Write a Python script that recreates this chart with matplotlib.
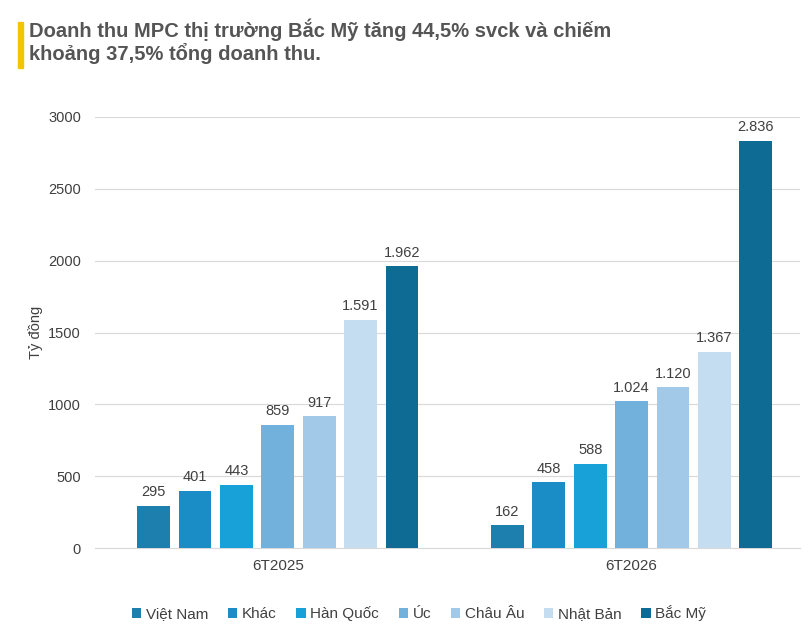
import matplotlib.pyplot as plt
import numpy as np

plt.rcParams["font.family"] = ["Liberation Sans", "DejaVu Sans"]

groups = ["6T2025", "6T2026"]
markets = ["Việt Nam", "Khác", "Hàn Quốc", "Úc", "Châu Âu", "Nhật Bản", "Bắc Mỹ"]
values_2025 = [295, 401, 443, 859, 917, 1591, 1962]
values_2026 = [162, 458, 588, 1024, 1120, 1367, 2836]
colors = ["#1c7fae", "#1a8dc6", "#18a1d9", "#72b1dc", "#a2c9e8", "#c5ddf0", "#0d6b94"]


def fmt(v):
    return f"{v:,}".replace(",", ".")


fig = plt.figure(figsize=(8.11, 6.39), dpi=100)
ax = fig.add_axes([0.117, 0.142, 0.869, 0.675])

step, width = 0.117, 0.093
data = np.array([values_2025, values_2026])
for i, (name, c) in enumerate(zip(markets, colors)):
    xs = np.arange(len(groups)) + (i - 3) * step
    ax.bar(xs, data[:, i], width=width, color=c, label=name, zorder=3)
    for x, v in zip(xs, data[:, i]):
        ax.text(x, v + 45, fmt(v), ha="center", va="bottom", fontsize=10.5, color="#404040")

ax.set_xlim(-0.517, 1.475)
ax.set_ylim(0, 3000)
ax.set_yticks(range(0, 3001, 500))
ax.tick_params(axis="y", length=0, labelsize=10.5, labelcolor="#404040", pad=10)
ax.set_xticks([0, 1])
ax.set_xticklabels(groups, fontsize=11, color="#404040")
ax.tick_params(axis="x", length=0, pad=8)
ax.grid(axis="y", color="#d9d9d9", linewidth=0.8, zorder=0)
for s in ["top", "right", "left"]:
    ax.spines[s].set_visible(False)
ax.spines["bottom"].set_color("#d9d9d9")
ax.set_ylabel("Tỷ đồng", fontsize=10.5, color="#404040", labelpad=4)

ax.legend(loc="upper center", bbox_to_anchor=(0.46, -0.1), ncol=7, frameon=False,
          fontsize=11, handlelength=0.6, handleheight=0.6, handletextpad=0.3,
          columnspacing=1.3, labelcolor="#404040")

fig.text(0.036, 0.935, "Doanh thu MPC thị trường Bắc Mỹ tăng 44,5% svck và chiếm\nkhoảng 37,5% tổng doanh thu.",
         fontsize=14.5, fontweight="bold", color="#555555", va="center", linespacing=1.1)
fig.patches.append(plt.Rectangle((0.022, 0.893), 0.006, 0.072, transform=fig.transFigure,
                                 color="#f5c400", zorder=5))

fig.savefig("out.png", dpi=100)
